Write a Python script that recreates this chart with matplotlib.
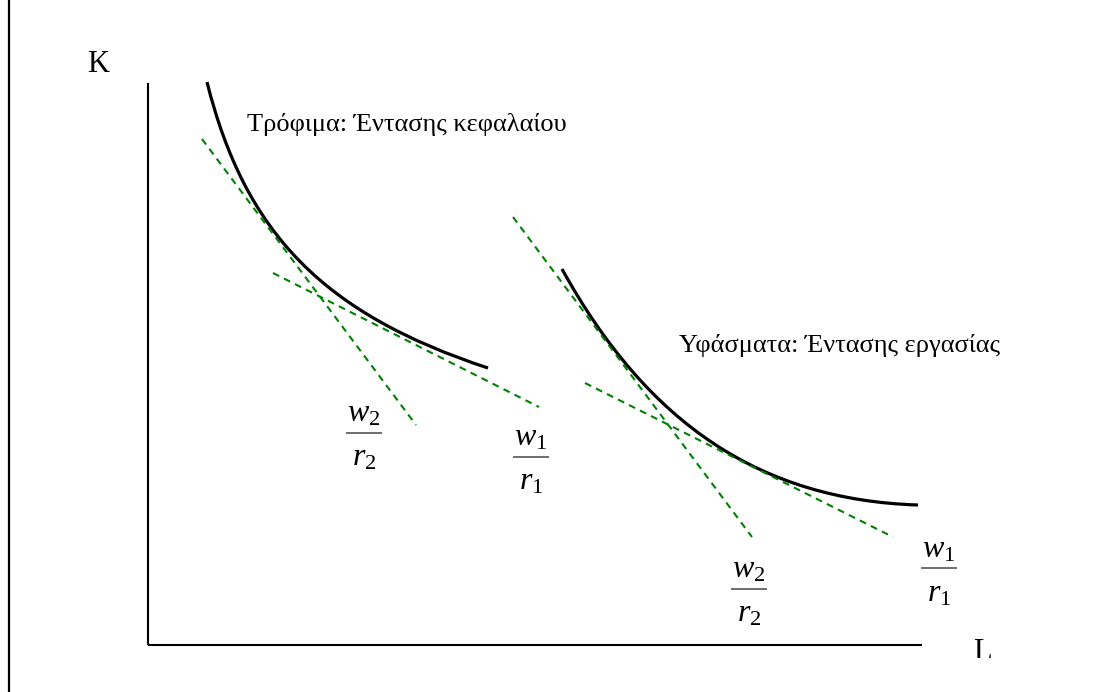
import matplotlib
matplotlib.use("Agg")
import matplotlib.pyplot as plt
from matplotlib.path import Path
from matplotlib.patches import PathPatch, Rectangle

plt.rcParams["font.family"] = ["Liberation Serif", "DejaVu Serif"]
plt.rcParams["mathtext.fontset"] = "custom"
plt.rcParams["mathtext.rm"] = "Liberation Serif"
plt.rcParams["mathtext.it"] = "Liberation Serif:italic"

# Isoquants (cubic Bezier: start, handle, handle, end) in (L, K)
food_L = [59, 97, 176, 340]
food_K = [563, 411, 331, 277]
textile_L = [414, 500, 614, 770]
textile_K = [376, 220, 145, 140]

# Tangent (relative price) lines: start / end points
tangent_L = [[54, 268], [125, 391], [365, 604], [437, 745]]
tangent_K = [[506, 220], [372, 238], [428, 108], [262, 108]]

# Labels
curve_labels = ["Τρόφιμα: Έντασης κεφαλαίου", "Υφάσματα: Έντασης εργασίας"]
curve_label_L = [99, 531]
curve_label_K = [514, 293]

# w/r fraction labels (centre, bar level)
frac_num = ["w_2", "w_1", "w_2", "w_1"]
frac_den = ["r_2", "r_1", "r_2", "r_1"]
frac_L = [216, 383, 601, 791]
frac_K = [212, 188, 56, 77]

axis_len_L = 774
axis_len_K = 562

fig = plt.figure(figsize=(11.04, 6.92), dpi=100)
ax = fig.add_axes([0, 0, 1, 1])
ax.set_xlim(-148, 956)
ax.set_ylim(-47, 645)
ax.axis("off")

# frame line on the left
ax.plot([-139, -139], [-47, 645], color="black", lw=1.6, solid_capstyle="butt")

# axes
ax.plot([0, 0], [0, axis_len_K], color="black", lw=1.5, solid_capstyle="butt")
ax.plot([0, axis_len_L], [0, 0], color="black", lw=1.5, solid_capstyle="butt")
ax.text(-50, 573, "K", fontsize=22, ha="center", va="baseline")
txt = ax.text(825, -15, "L", fontsize=22, ha="left", va="baseline")
txt.set_clip_on(True)
txt.set_clip_path(Rectangle((800, -13), 100, 60, transform=ax.transData))

codes = [Path.MOVETO, Path.CURVE4, Path.CURVE4, Path.CURVE4]
for cl, ck in [(food_L, food_K), (textile_L, textile_K)]:
    p = Path(list(zip(cl, ck)), codes)
    ax.add_patch(PathPatch(p, facecolor="none", edgecolor="black", lw=2.3, capstyle="butt"))

for tl, tk in zip(tangent_L, tangent_K):
    ax.plot(tl, tk, color="#008000", lw=1.5, linestyle=(0, (3.3, 2.6)))

for lab, x, y in zip(curve_labels, curve_label_L, curve_label_K):
    ax.text(x, y, lab, fontsize=19, ha="left", va="baseline")

for num, den, x, y in zip(frac_num, frac_den, frac_L, frac_K):
    ax.plot([x - 18, x + 18], [y, y], color="#555555", lw=1.2, solid_capstyle="butt")
    ax.text(x, y + 11, "$" + num + "$", fontsize=23, ha="center", va="baseline")
    ax.text(x, y - 33, "$" + den + "$", fontsize=23, ha="center", va="baseline")

fig.savefig("out.png", dpi=100)
